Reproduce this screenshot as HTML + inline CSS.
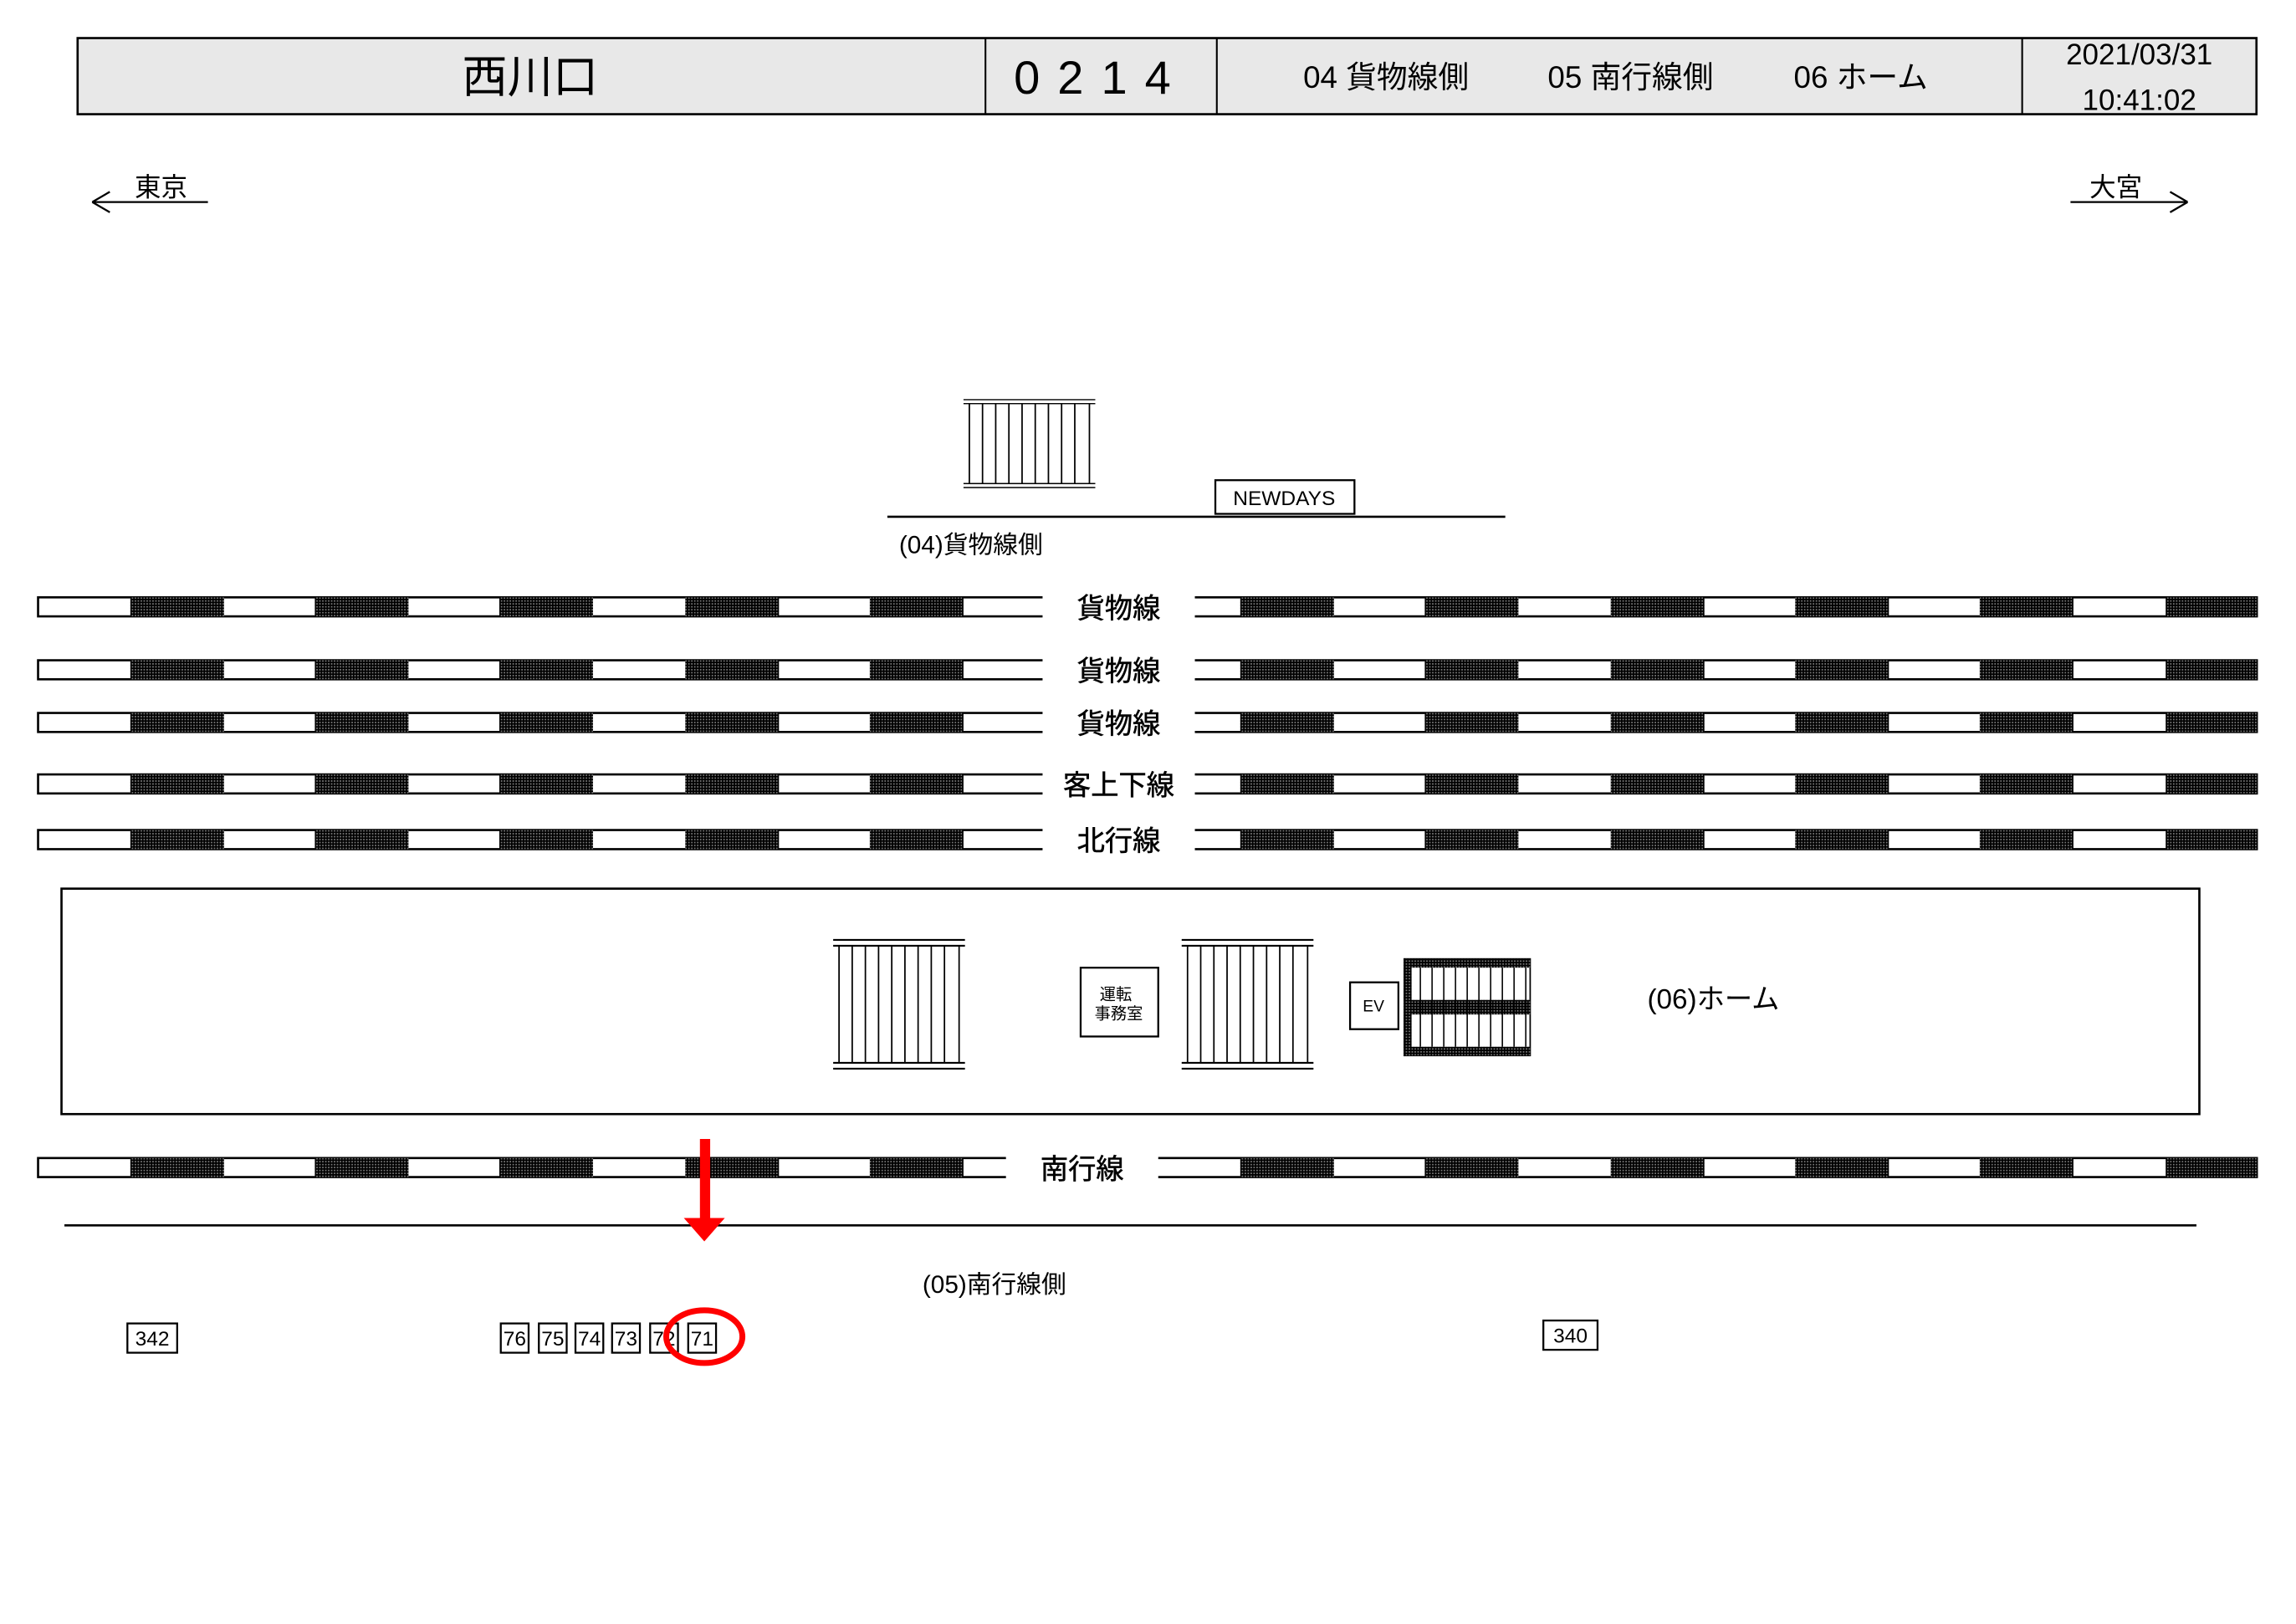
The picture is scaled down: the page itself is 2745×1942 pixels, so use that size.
<!DOCTYPE html>
<html><head><meta charset="utf-8"><style>
html,body{margin:0;padding:0;background:#fff;}
svg{display:block;}
text{font-family:"Liberation Sans Narrow","Liberation Sans","Noto Sans CJK JP",sans-serif;fill:#000;}
</style></head><body>
<svg width="2745" height="1942" viewBox="0 0 1568 1109.3" xmlns="http://www.w3.org/2000/svg">
<defs>
<pattern id="h" width="2" height="2" patternUnits="userSpaceOnUse">
<rect width="2" height="2" fill="#000"/><rect width="1" height="1" fill="#777"/>
</pattern>
<g id="rowL">
<rect x="89" y="0" width="64" height="13" fill="url(#h)"/>
<rect x="215" y="0" width="64" height="13" fill="url(#h)"/>
<rect x="341" y="0" width="64" height="13" fill="url(#h)"/>
<rect x="468" y="0" width="64" height="13" fill="url(#h)"/>
<rect x="594" y="0" width="64" height="13" fill="url(#h)"/>
</g>
<g id="rowR">
<rect x="847" y="0" width="64" height="13" fill="url(#h)"/>
<rect x="973" y="0" width="64" height="13" fill="url(#h)"/>
<rect x="1100" y="0" width="64" height="13" fill="url(#h)"/>
<rect x="1226" y="0" width="64" height="13" fill="url(#h)"/>
<rect x="1352" y="0" width="64" height="13" fill="url(#h)"/>
<rect x="1479" y="0" width="63" height="13" fill="url(#h)"/>
</g>
<g id="track">
<path d="M712 0H26V13H712M816 0H1542M816 13H1542" fill="none" stroke="#000" stroke-width="1.5"/>
<use href="#rowL"/><use href="#rowR"/>
</g>
<g id="stair">
<path d="M0 0H90M0 4H90M0 84H90M0 88H90" stroke="#000" stroke-width="1.2" fill="none"/>
<path d="M4 4V84M86 4V84M13 4V84M22 4V84M31 4V84M40 4V84M49 4V84M58 4V84M67 4V84M76 4V84" stroke="#000" stroke-width="1"/>
</g>
</defs>

<rect x="53" y="26" width="1488" height="52" fill="#e8e8e8" stroke="#000" stroke-width="1.5"/>
<path d="M673 26V78M831 26V78M1381 26V78" stroke="#000" stroke-width="1.2"/>
<text x="362" y="63" font-size="31" text-anchor="middle">西川口</text>
<text x="752" y="64" font-size="32" text-anchor="middle" letter-spacing="12">0214</text>
<text x="890" y="60" font-size="21">04 貨物線側</text>
<text x="1057" y="60" font-size="21">05 南行線側</text>
<text x="1225" y="60" font-size="21">06 ホーム</text>
<text x="1461" y="44" font-size="20" text-anchor="middle">2021/03/31</text>
<text x="1461" y="75" font-size="20" text-anchor="middle">10:41:02</text>

<path d="M63 138H142M63 138L75 131M63 138L75 145" stroke="#000" stroke-width="1.3" fill="none"/>
<text x="110" y="134" font-size="18" text-anchor="middle">東京</text>
<path d="M1414 138H1494M1494 138L1482 131M1494 138L1482 145" stroke="#000" stroke-width="1.3" fill="none"/>
<text x="1445" y="134" font-size="18" text-anchor="middle">大宮</text>

<g transform="translate(658,273) scale(1,0.682)"><use href="#stair"/></g>
<rect x="830" y="328" width="95" height="23" fill="#fff" stroke="#000" stroke-width="1.3"/>
<text x="877" y="345" font-size="14" text-anchor="middle">NEWDAYS</text>
<path d="M606 353H1028" stroke="#000" stroke-width="1.5"/>
<text x="614" y="378" font-size="17">(04)貨物線側</text>

<g font-size="19" text-anchor="middle" stroke="#000" stroke-width="0.3">
<text x="764" y="422">貨物線</text>
<text x="764" y="465">貨物線</text>
<text x="764" y="501">貨物線</text>
<text x="764" y="543">客上下線</text>
<text x="764" y="581">北行線</text>
<text x="739" y="805">南行線</text>
</g>
<use href="#track" y="408"/>
<use href="#track" y="451"/>
<use href="#track" y="487"/>
<use href="#track" y="529"/>
<use href="#track" y="567"/>

<rect x="42" y="607" width="1460" height="154" fill="none" stroke="#000" stroke-width="1.5"/>
<g transform="translate(569,642)"><use href="#stair"/></g>
<g transform="translate(807,642)"><use href="#stair"/></g>
<rect x="738" y="661" width="53" height="47" fill="none" stroke="#000" stroke-width="1.3"/>
<text x="762" y="683" font-size="11" text-anchor="middle">運転</text>
<text x="764" y="696" font-size="11" text-anchor="middle">事務室</text>
<rect x="922" y="671" width="33" height="32" fill="none" stroke="#000" stroke-width="1.3"/>
<text x="938" y="691" font-size="11" text-anchor="middle">EV</text>
<g>
<rect x="959" y="655" width="86" height="66" fill="none" stroke="#000" stroke-width="1"/>
<rect x="959" y="655" width="86" height="6" fill="url(#h)"/>
<rect x="959" y="683" width="86" height="10" fill="url(#h)"/>
<rect x="959" y="715" width="86" height="6" fill="url(#h)"/>
<rect x="959" y="655" width="5" height="66" fill="url(#h)"/>
<path d="M970 661V715M978 661V715M986 661V715M994 661V715M1002 661V715M1010 661V715M1018 661V715M1026 661V715M1034 661V715M1042 661V715" stroke="#000" stroke-width="0.9"/>
</g>
<text x="1125" y="689" font-size="19">(06)ホーム</text>

<g transform="translate(0,791)">
<path d="M687 0H26V13H687M791 0H1542M791 13H1542" fill="none" stroke="#000" stroke-width="1.5"/>
<use href="#rowL"/><use href="#rowR"/>
</g>

<path d="M44 837H1500" stroke="#000" stroke-width="1.5"/>
<text x="630" y="883" font-size="17">(05)南行線側</text>

<g fill="#fff" stroke="#000" stroke-width="1.3">
<rect x="87" y="904" width="34" height="20"/>
<rect x="342" y="904" width="19" height="20"/>
<rect x="368" y="904" width="19" height="20"/>
<rect x="393" y="904" width="19" height="20"/>
<rect x="418" y="904" width="19" height="20"/>
<rect x="444" y="904" width="19" height="20"/>
<rect x="470" y="904" width="19" height="20"/>
<rect x="1054" y="902" width="37" height="20"/>
</g>
<g font-size="14" text-anchor="middle">
<text x="104" y="919">342</text>
<text x="351.5" y="919">76</text>
<text x="377.5" y="919">75</text>
<text x="402.5" y="919">74</text>
<text x="427.5" y="919">73</text>
<text x="453.5" y="919">72</text>
<text x="479.5" y="919">71</text>
<text x="1072.5" y="917">340</text>
</g>

<rect x="478" y="778" width="7" height="56" fill="#f00"/>
<path d="M467 832H495L481 848Z" fill="#f00"/>
<ellipse cx="481" cy="913" rx="26" ry="18" fill="none" stroke="#f00" stroke-width="4"/>
</svg>
</body></html>
